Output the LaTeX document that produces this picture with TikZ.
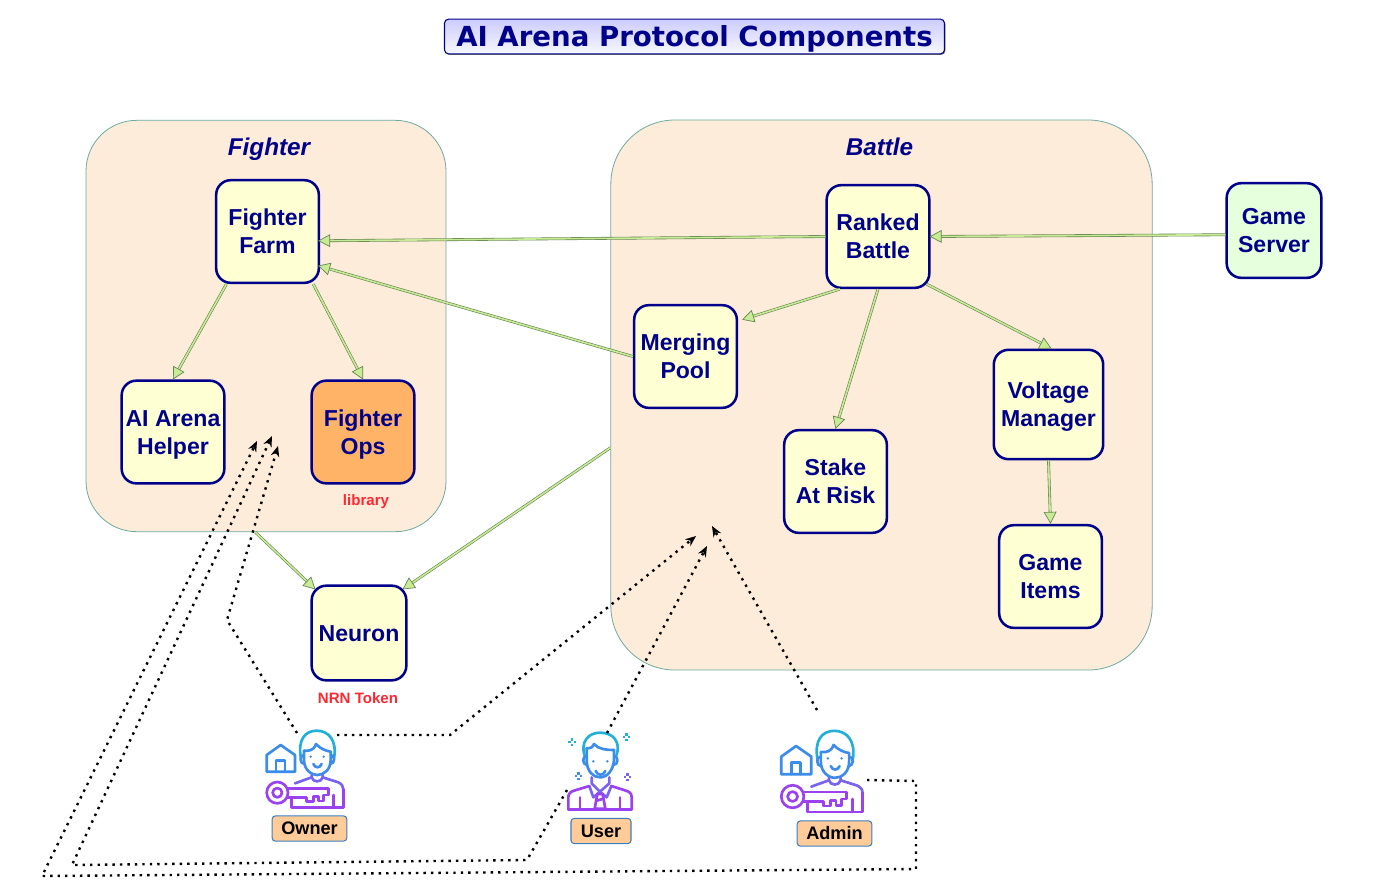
\documentclass[tikz,border=0pt]{standalone}
\usepackage{fontspec}
\setmainfont{Liberation Sans}
\newfontfamily\titlefont{DejaVu Sans}
\usetikzlibrary{arrows.meta,shadows}
\definecolor{navytext}{RGB}{0,0,139}
\definecolor{groupfill}{RGB}{253,236,218}
\definecolor{groupline}{RGB}{110,170,160}
\definecolor{compfill}{RGB}{255,255,212}
\definecolor{opsfill}{RGB}{255,179,102}
\definecolor{serverfill}{RGB}{230,255,220}
\definecolor{tagfill}{RGB}{255,204,153}
\definecolor{tagline}{RGB}{60,125,190}
\definecolor{flowline}{RGB}{100,130,80}
\definecolor{flowfill}{RGB}{200,235,150}
\definecolor{noteRed}{RGB}{255,40,50}
\definecolor{iconcyan}{RGB}{34,176,216}
\definecolor{iconblue}{RGB}{60,140,235}
\definecolor{iconviolet}{RGB}{120,100,240}
\definecolor{iconpurple}{RGB}{155,65,240}
\tikzset{
  comp-box/.style={
    draw=navytext, line width=1.9pt, rounded corners=11pt, fill=compfill,
    text=navytext, font=\fontsize{17.3}{21}\selectfont\bfseries,
    align=center, inner sep=0pt, minimum size=77pt
  },
  comp-pair/.style={
    comp-box, text height=37.4pt, text depth=4pt
  },
  group-box/.style={
    draw=groupline, line width=0.6pt, fill=groupfill, inner sep=0pt
  },
  group-title/.style={
    text=navytext, font=\fontsize{18.2}{22}\selectfont\bfseries\itshape, inner sep=0pt,
    text height=17pt, text depth=4pt
  },
  actor-tag/.style={
    draw=tagline, line width=0.8pt, fill=tagfill, rounded corners=2.5pt,
    text=black, font=\fontsize{13.6}{16}\selectfont\bfseries,
    inner sep=0pt, minimum height=19pt
  },
  note-red/.style={
    text=noteRed, font=\fontsize{11.3}{13}\selectfont\bfseries, inner sep=0pt,
    text height=11pt, text depth=3pt
  },
  flow/.style={
    draw=flowline, double=flowfill, line width=0.45pt, double distance=1.2pt,
    -{Triangle[length=9pt,width=9.5pt,fill=flowfill,color=flowline,line width=0.5pt]}
  },
  access/.style={
    draw=black, line width=1.8pt, dash pattern=on 1.8pt off 3.8pt,
    -{Stealth[length=8pt,width=6.5pt]}
  },
  icon-line/.style={line width=2pt, line cap=round, line join=round},
  keyholder/.pic={
    % house
    \draw[icon-line, iconblue] (80,155) -- (80,105) -- (122,75) -- (165,105) -- (165,155) -- cycle;
    \draw[icon-line, iconblue] (108,155) -- (108,122) -- (135,122) -- (135,155);
    % head
    \draw[icon-line, iconcyan] (183,115) .. controls (172,60) and (195,32) .. (230,32)
      .. controls (265,32) and (292,60) .. (282,115);
    \draw[icon-line, iconblue] (192,92) -- (205,92) .. controls (218,90) and (225,82) .. (228,72)
      .. controls (240,85) and (255,92) .. (272,95);
    \draw[icon-line, iconblue] (192,92) -- (192,120) .. controls (192,150) and (215,165) .. (232,165)
      .. controls (250,165) and (272,150) .. (272,120) -- (272,95);
    \draw[icon-line, iconblue] (192,105) .. controls (178,105) and (178,132) .. (194,132);
    \draw[icon-line, iconblue] (272,105) .. controls (286,105) and (286,132) .. (270,132);
    \fill[iconblue] (212,110) circle (4) (251,110) circle (4);
    \draw[icon-line, iconblue] (220,132) .. controls (225,145) and (240,145) .. (245,132);
    % shoulders
    \draw[icon-line, iconviolet] (215,165) -- (215,172) .. controls (218,188) and (245,188) .. (248,172) -- (248,165);
    \draw[icon-line, iconviolet] (165,190) -- (215,172);
    \draw[icon-line, iconviolet] (248,172) -- (295,187) .. controls (305,192) and (310,198) .. (310,208);
    % key
    \draw[icon-line, iconpurple] (112,218) circle (32) (112,218) circle (14);
    \draw[icon-line, iconpurple] (142,205) -- (265,205) -- (265,225) -- (250,225) -- (250,243) -- (235,243)
      -- (235,230) -- (220,230) -- (220,245) -- (200,245) -- (200,232) -- (142,232);
    \draw[icon-line, iconpurple] (155,232) -- (155,262) -- (310,262) -- (310,208);
    \draw[icon-line, iconpurple] (281,225) -- (281,262);
  },
  sparkle/.pic={
    \foreach \ang in {0,90,180,270} {
      \fill (\ang:8) +(-3.5,-3.5) rectangle +(3.5,3.5);
    }
  }
}

\begin{document}
\begin{tikzpicture}[x=0.75pt,y=-0.75pt]
  \useasboundingbox (0,0) rectangle (1385,890);
  % Title
  \node[draw=navytext, line width=0.8pt, rounded corners=3pt, top color=blue!20, bottom color=blue!3,
    drop shadow={shadow xshift=0.6pt,shadow yshift=-0.8pt,fill=black!55,opacity=1},
    minimum width=375pt, minimum height=26pt, inner sep=0pt, text height=19pt, text depth=4pt,
    text=navytext, font=\titlefont\fontsize{20.7}{26}\selectfont\bfseries] (diagramTitle) at (694.5,36.5)
    {AI Arena Protocol Components};

  % Groups
  \node[group-box, rounded corners=38pt, minimum width=270pt, minimum height=308.5pt] (fighterGroup) at (266,326) {};
  \node[group-box, rounded corners=48pt, minimum width=406pt, minimum height=412.5pt] (battleGroup) at (881.5,395) {};
  \node[group-title] (fighterTitle) at (269,147) {Fighter};
  \node[group-title] (battleTitle) at (879.5,147) {Battle};

  % Contract boxes
  \node[comp-pair] (fighterFarm) at (267.5,231.5) {Fighter\\Farm};
  \node[comp-pair] (arenaHelper) at (173,432) {AI Arena\\Helper};
  \node[comp-pair, fill=opsfill] (fighterOps) at (363,432) {Fighter\\Ops};
  \node[comp-pair] (rankedBattle) at (878,236.5) {Ranked\\Battle};
  \node[comp-pair] (mergingPool) at (685.5,356.5) {Merging\\Pool};
  \node[comp-pair] (stakeAtRisk) at (835.5,481.5) {Stake\\At Risk};
  \node[comp-pair, minimum size=82pt] (voltageManager) at (1048.5,404.5) {Voltage\\Manager};
  \node[comp-pair] (gameItems) at (1050.5,576.5) {Game\\Items};
  \node[comp-pair, fill=serverfill, minimum size=71pt] (gameServer) at (1274,230.5) {Game\\Server};
  \node[comp-box, minimum size=71pt, text height=12.4pt, text depth=0pt] (neuron) at (359,633) {Neuron};
  \node[note-red] (libraryNote) at (366,500) {library};
  \node[note-red] (tokenNote) at (358,698) {NRN Token};

  % Flows between contracts
  \draw[flow] (gameServer.185) -- ([shift={(-1,0)}]rankedBattle.east);
  \draw[flow] (rankedBattle.west) -- ([shift={(-2,0)}]fighterFarm.-10);
  \draw[flow] (mergingPool.west) -- ([shift={(-2,0)}]fighterFarm.-33);
  \draw[flow] (rankedBattle.234) -- ([shift={(4,0)}]mergingPool.35);
  \draw[flow] (rankedBattle.south) -- (stakeAtRisk.north);
  \draw[flow] ([shift={(-4,-5)}]rankedBattle.south east) -- ([shift={(3,0)}]voltageManager.north);
  \draw[flow] (voltageManager.south) -- (gameItems.north);
  \draw[flow] (fighterFarm.-128) -- (arenaHelper.north);
  \draw[flow] (fighterFarm.-49) -- (fighterOps.north);
  \draw[flow] (fighterGroup.-93) -- ([shift={(5,5)}]neuron.north west);
  \draw[flow] (battleGroup.-169) -- ([shift={(-5,5)}]neuron.north east);

  % Actors
  \pic[scale=1/3] at (240,720) {keyholder};
  \pic[scale=1.06/3] at (753,719.5) {keyholder};
  \begin{scope}[shift={(550,720)},scale=1/3]
    \draw[icon-line, iconcyan] (103,105) .. controls (92,65) and (115,38) .. (150,38)
      .. controls (190,38) and (212,65) .. (200,105);
    \draw[icon-line, iconblue] (110,85) .. controls (125,85) and (130,80) .. (132,72)
      .. controls (145,88) and (170,90) .. (192,90);
    \draw[icon-line, iconblue] (110,85) -- (110,125) .. controls (112,155) and (130,172) .. (150,172)
      .. controls (172,172) and (190,150) .. (192,120) -- (192,90);
    \draw[icon-line, iconblue] (110,108) .. controls (96,108) and (96,135) .. (112,135);
    \draw[icon-line, iconblue] (192,108) .. controls (206,108) and (206,135) .. (190,135);
    \fill[iconblue] (130,124) circle (4) (172,124) circle (4);
    \draw[icon-line, iconblue] (137,153) .. controls (143,168) and (160,168) .. (166,153);
    \draw[icon-line, iconviolet] (125,172) -- (125,190) -- (150,215) -- (178,190) -- (178,172);
    \draw[icon-line, iconviolet] (118,198) -- (130,232) -- (150,215) -- (170,232) -- (184,198);
    \draw[icon-line, iconpurple] (55,268) -- (55,232) .. controls (55,220) and (62,215) .. (72,212) -- (118,198);
    \draw[icon-line, iconpurple] (245,268) -- (245,232) .. controls (245,220) and (238,215) .. (228,212) -- (184,198);
    \draw[icon-line, iconpurple] (55,268) -- (245,268);
    \draw[icon-line, iconpurple] (90,232) -- (90,268);
    \draw[icon-line, iconpurple] (210,232) -- (210,268);
    \draw[icon-line, iconpurple] (142,222) -- (158,222) -- (166,266) -- (134,266) -- cycle;
    \draw[icon-line, iconpurple] (140,242) -- (160,236);
  \end{scope}
  \pic[scale=1/3, iconcyan] at (572,742) {sparkle};
  \pic[scale=1/3, iconcyan] at (626.5,737) {sparkle};
  \pic[scale=1/3, iconblue] at (578.5,776) {sparkle};
  \pic[scale=1/3, iconviolet] at (627.5,777) {sparkle};
  \node[actor-tag, minimum width=56pt] (ownerTag) at (309.5,828.5) {Owner};
  \node[actor-tag, minimum width=45pt] (userTag) at (601,831) {User};
  \node[actor-tag, minimum width=56pt] (adminTag) at (834.5,833.5) {Admin};

  % Access lines
  \coordinate (ownerToFighter) at (297,733);
  \coordinate (ownerToBattle) at (337,735);
  \coordinate (userToBattle) at (607,733);
  \coordinate (userToFighter) at (567,790);
  \coordinate (adminToBattle) at (817,710);
  \coordinate (adminToFighter) at (867,780);
  \coordinate (fighterEntryA) at (257,441);
  \coordinate (fighterEntryB) at (272,436);
  \coordinate (fighterEntryC) at (278,446);
  \coordinate (battleEntryA) at (696,536);
  \coordinate (battleEntryB) at (707,546);
  \coordinate (battleEntryC) at (712,526);
  \draw[access] (ownerToFighter) -- (227,620) -- (fighterEntryC);
  \draw[access] (ownerToBattle) -- (450,735) -- (battleEntryA);
  \draw[access] (userToBattle) -- (battleEntryB);
  \draw[access] (userToFighter) -- (527,860) -- (72,865) -- (fighterEntryB);
  \draw[access] (adminToBattle) -- (battleEntryC);
  \draw[access] (adminToFighter) -- (916,781) -- (916,869) -- (42,876) -- (fighterEntryA);
\end{tikzpicture}
\end{document}
